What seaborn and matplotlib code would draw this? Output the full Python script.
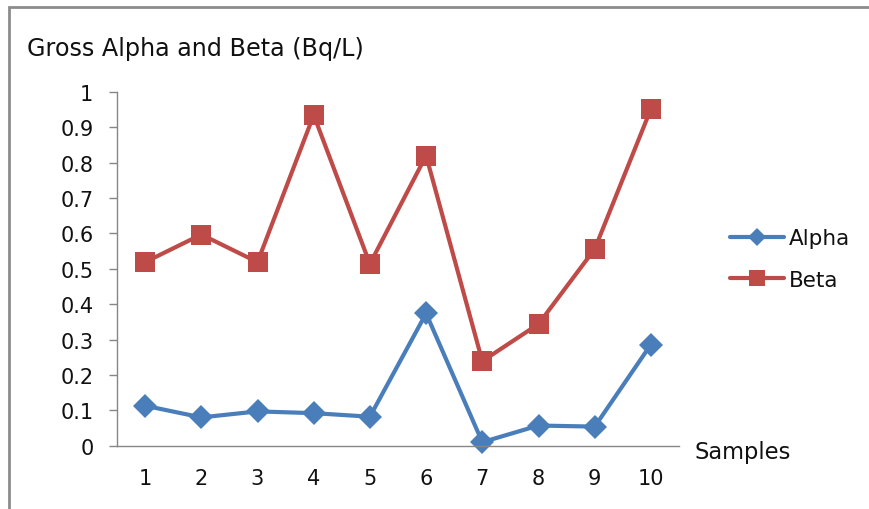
import matplotlib
matplotlib.use("Agg")
import matplotlib.pyplot as plt
import seaborn as sns
import pandas as pd
import numpy as np
from matplotlib.lines import Line2D
from matplotlib.patches import Rectangle

samples = list(range(1, 11))
alpha = [0.113, 0.080, 0.097, 0.092, 0.082, 0.374, 0.010, 0.057, 0.054, 0.286]
beta = [0.519, 0.597, 0.519, 0.935, 0.514, 0.820, 0.239, 0.344, 0.556, 0.952]
series_names = ["Alpha", "Beta"]
y_ticks = [0, 0.1, 0.2, 0.3, 0.4, 0.5, 0.6, 0.7, 0.8, 0.9, 1]
y_tick_labels = ["0", "0.1", "0.2", "0.3", "0.4", "0.5", "0.6", "0.7", "0.8", "0.9", "1"]

df = pd.DataFrame({
    "Sample": samples * 2,
    "Value": alpha + beta,
    "Series": ["Alpha"] * len(alpha) + ["Beta"] * len(beta),
})

sns.set_theme(style="white")
plt.rcParams["font.family"] = ["DejaVu Sans"]

BLUE = "#4A7EBB"
RED = "#BE4B48"
AXIS = "#868686"
TEXT = "#111111"

fig = plt.figure(figsize=(8.69, 5.10), dpi=100)
ax = fig.add_axes([117 / 869, 1 - 446.7 / 510, (679 - 117) / 869, (446.7 - 93) / 510])

palette = {"Alpha": BLUE, "Beta": RED}
markers = {"Alpha": "D", "Beta": "s"}
sizes = {"Alpha": 12.5, "Beta": 15}
for name in series_names:
    sns.lineplot(data=df[df["Series"] == name], x="Sample", y="Value",
                 color=palette[name], marker=markers[name],
                 markersize=sizes[name], markeredgewidth=0,
                 linewidth=3.0, ax=ax, legend=False, clip_on=False)

ax.set_xlim(0.5, 10.5)
ax.set_ylim(0, 1)
ax.set_yticks(y_ticks)
ax.set_yticklabels(y_tick_labels)
ax.set_xticks(samples)
ax.set_xticklabels([str(s) for s in samples])
ax.set_xticks(np.arange(0.5, 11, 1), minor=True)
ax.tick_params(axis="x", which="major", length=0, pad=16, labelsize=15, labelcolor=TEXT)
ax.tick_params(axis="x", which="minor", length=5.5, width=1, color=AXIS, direction="out")
ax.tick_params(axis="y", which="major", length=6, width=1, color=AXIS, direction="out",
               pad=11, labelsize=15, labelcolor=TEXT, left=True)
ax.set_xlabel("")
ax.set_ylabel("")
for side in ["top", "right"]:
    ax.spines[side].set_visible(False)
for side in ["left", "bottom"]:
    ax.spines[side].set_color(AXIS)
    ax.spines[side].set_linewidth(1)

fig.text(27 / 869, 1 - 49 / 510, "Gross Alpha and Beta (Bq/L)", fontsize=17.2,
         color=TEXT, va="center", ha="left")
fig.text(695 / 869, 1 - 453 / 510, "Samples", fontsize=16.3, color=TEXT,
         va="center", ha="left")

handles = [Line2D([], [], color=palette[n], marker=markers[n],
                  markersize={"Alpha": 9, "Beta": 12}[n],
                  markeredgewidth=0, linewidth=3.0) for n in series_names]
fig.legend(handles, series_names, loc="center left",
           bbox_to_anchor=(730 / 869, 1 - 260 / 510), frameon=False,
           borderpad=0, borderaxespad=0,
           fontsize=15.5, handlelength=2.5, handletextpad=0.25, labelspacing=1.0,
           labelcolor=TEXT)

fig.add_artist(Rectangle((9 / 869, -0.05), 1.0, 1 - 8 / 510 + 0.05,
                         transform=fig.transFigure, fill=False,
                         edgecolor="#8c8c8c", linewidth=2))

fig.savefig("out.png", dpi=100)
